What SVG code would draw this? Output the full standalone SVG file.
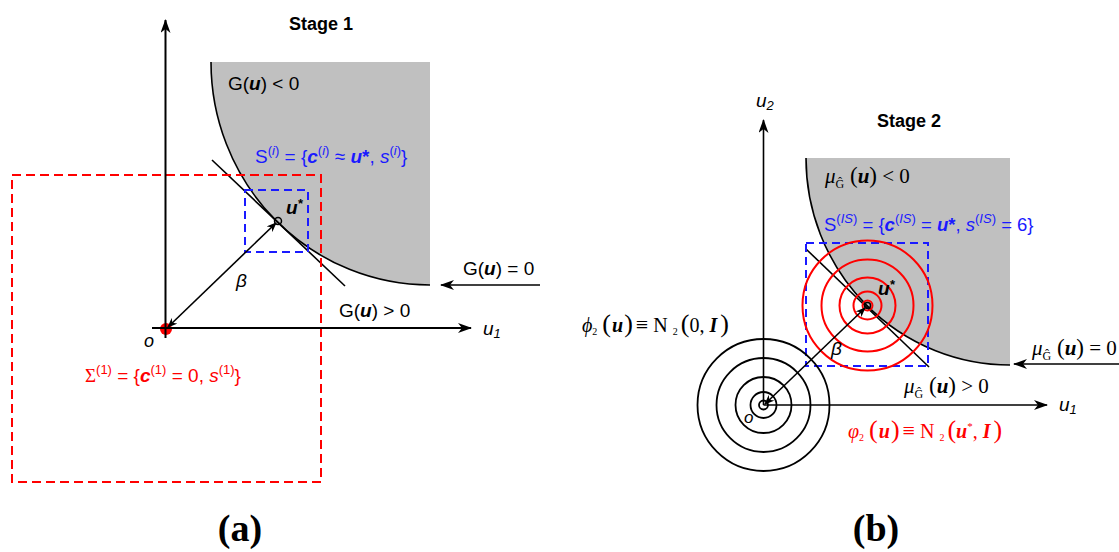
<svg xmlns="http://www.w3.org/2000/svg" width="1119" height="552" viewBox="0 0 1119 552">
<style>
.sans{font-family:"Liberation Sans",Arial,sans-serif}
.serif{font-family:"Liberation Serif","Times New Roman",serif}
.ax{stroke:#000;stroke-width:2;fill:none}
.ln{stroke:#000;stroke-width:1.6;fill:none}
.gray{fill:#c0c0c0;stroke:none}
.rdash{fill:none;stroke:#ff0000;stroke-width:2;stroke-dasharray:9 5}
.bdash{fill:none;stroke:#1a1aff;stroke-width:2;stroke-dasharray:8 5}
.rc{fill:none;stroke:#ff0000;stroke-width:2}
.kc{fill:none;stroke:#000;stroke-width:1.8}
.bi{font-weight:bold;font-style:italic}
.it{font-style:italic}
.blue{fill:#1a1aff}
.red{fill:#ff0000}
</style>
<defs>
<marker id="ah" viewBox="0 0 14 10" refX="13" refY="5" markerWidth="14" markerHeight="10" orient="auto-start-reverse" markerUnits="userSpaceOnUse">
<path d="M0,0 L14,5 L0,10 L4,5 Z" fill="#000"/>
</marker>
<marker id="sh" viewBox="0 0 10 8" refX="9" refY="4" markerWidth="10" markerHeight="8" orient="auto-start-reverse" markerUnits="userSpaceOnUse">
<path d="M0,0 L10,4 L0,8 L3,4 Z" fill="#000"/>
</marker>
</defs>

<!-- Panel (a) -->
<g id="panel-a">
<g id="a-region">
<path class="gray" d="M211,62 A219,223 0 0 0 430,285 L430,62 Z"/>
<path class="ln" d="M211,62 A219,223 0 0 0 430,285"/>
</g>
<g id="a-tangent"><line class="ln" x1="212" y1="160" x2="345" y2="286"/></g>
<g id="a-box-red"><rect class="rdash" x="12" y="175" width="309" height="307"/></g>
<g id="a-box-blue"><rect class="bdash" x="245" y="190" width="63" height="62"/></g>
<g id="a-ustar"><circle cx="278" cy="221" r="3.5" fill="none" stroke="#000" stroke-width="1.5"/></g>
<g id="a-origin"><circle cx="166" cy="329" r="6" fill="#ff0000"/></g>
</g>

<!-- Panel (b) -->
<g id="panel-b">
<g id="b-region">
<path class="gray" d="M806,158 A204,207 0 0 0 1010,365 L1010,158 Z"/>
<path class="ln" d="M806,158 A204,207 0 0 0 1010,365"/>
</g>
<g id="b-tangent"><line class="ln" x1="806" y1="249" x2="929" y2="367"/></g>
<g id="b-box-blue"><rect class="bdash" x="806" y="243" width="122" height="123"/></g>
<g id="b-red-circles">
<circle class="rc" cx="867.5" cy="305.5" r="65"/>
<circle class="rc" cx="867.5" cy="305.5" r="46"/>
<circle class="rc" cx="867.5" cy="305.5" r="28"/>
<circle class="rc" cx="867.5" cy="305.5" r="14"/>
<circle class="rc" cx="867.5" cy="305.5" r="5"/>
<circle cx="867.5" cy="305.5" r="3" fill="none" stroke="#000" stroke-width="1.5"/>
</g>
<g id="b-black-circles">
<circle class="kc" cx="763.5" cy="405" r="66"/>
<circle class="kc" cx="763.5" cy="405" r="47"/>
<circle class="kc" cx="763.5" cy="405" r="28"/>
<circle class="kc" cx="763.5" cy="405" r="13"/>
<circle class="kc" cx="763.5" cy="405" r="4.5"/>
</g>
</g>

<g id="connectors">
<line class="ax" x1="165.5" y1="338" x2="165.5" y2="20" marker-end="url(#ah)"/>
<line class="ax" x1="152" y1="328" x2="471" y2="328" marker-end="url(#ah)"/>
<line class="ln" x1="168" y1="327" x2="276" y2="223" marker-start="url(#sh)" marker-end="url(#sh)"/>
<line class="ln" x1="540" y1="285" x2="441" y2="285" marker-end="url(#ah)"/>
<line class="ln" x1="763.5" y1="405" x2="763.5" y2="120" marker-end="url(#ah)"/>
<line class="ln" x1="763.5" y1="405" x2="1047" y2="405" marker-end="url(#ah)"/>
<line class="ln" x1="765" y1="404" x2="865" y2="308" marker-start="url(#sh)" marker-end="url(#sh)"/>
<line class="ln" x1="1119" y1="364" x2="1014" y2="364" marker-end="url(#ah)"/>
</g>

<g id="labels-a" class="sans" font-size="19">
<text x="289" y="30" font-weight="bold" font-size="18">Stage 1</text>
<text x="228" y="90">G(<tspan class="bi">u</tspan>) &lt; 0</text>
<text x="255" y="163" class="blue">S<tspan font-size="13" dy="-8">(<tspan class="it">i</tspan>)</tspan><tspan dy="8"> = {</tspan><tspan class="bi">c</tspan><tspan font-size="13" dy="-8">(<tspan class="it">i</tspan>)</tspan><tspan dy="8"> ≈ </tspan><tspan class="bi">u</tspan><tspan font-weight="bold">*</tspan>, <tspan class="it">s</tspan><tspan font-size="13" dy="-8">(<tspan class="it">i</tspan>)</tspan><tspan dy="8">}</tspan></text>
<text x="286" y="214" class="bi">u<tspan font-size="13" dy="-6">*</tspan></text>
<text x="236" y="287" class="it">β</text>
<text x="463" y="275">G(<tspan class="bi">u</tspan>) = 0</text>
<text x="339" y="317">G(<tspan class="bi">u</tspan>) &gt; 0</text>
<text x="483" y="335" class="it">u<tspan font-size="13" dy="3">1</tspan></text>
<text x="144" y="347" class="it" font-size="18">o</text>
<text x="85" y="382" class="red"><tspan class="serif">Σ</tspan><tspan font-size="13" dy="-8">(1)</tspan><tspan dy="8"> = {</tspan><tspan class="bi">c</tspan><tspan font-size="13" dy="-8">(1)</tspan><tspan dy="8"> = 0, </tspan><tspan class="it">s</tspan><tspan font-size="13" dy="-8">(1)</tspan><tspan dy="8">}</tspan></text>
</g>

<g id="labels-b" font-size="19">
<text x="756" y="107" class="sans it">u<tspan font-size="13" dy="3">2</tspan></text>
<text x="877" y="127" class="sans" font-weight="bold" font-size="18">Stage 2</text>
<text x="825" y="183" class="serif" font-size="21"><tspan class="it">μ</tspan><tspan font-size="12" dy="5">Ĝ</tspan><tspan dy="-5" font-size="23"> (</tspan><tspan class="bi">u</tspan><tspan font-size="23">)</tspan> &lt; 0</text>
<text x="824" y="231" class="sans blue" font-size="18.5">S<tspan font-size="13" dy="-8">(<tspan class="it">IS</tspan>)</tspan><tspan dy="8"> = {</tspan><tspan class="bi">c</tspan><tspan font-size="13" dy="-8">(<tspan class="it">IS</tspan>)</tspan><tspan dy="8"> = </tspan><tspan class="bi">u</tspan><tspan font-weight="bold">*</tspan>, <tspan class="it">s</tspan><tspan font-size="13" dy="-8">(<tspan class="it">IS</tspan>)</tspan><tspan dy="8"> = 6}</tspan></text>
<text x="878" y="295" class="sans bi">u<tspan font-size="13" dy="-6">*</tspan></text>
<text x="831" y="355" class="sans it">β</text>
<text x="1032" y="355" class="serif" font-size="21"><tspan class="it">μ</tspan><tspan font-size="12" dy="5">Ĝ</tspan><tspan dy="-5" font-size="23"> (</tspan><tspan class="bi">u</tspan><tspan font-size="23">)</tspan> = 0</text>
<text x="904" y="393" class="serif" font-size="21"><tspan class="it">μ</tspan><tspan font-size="12" dy="5">Ĝ</tspan><tspan dy="-5" font-size="23"> (</tspan><tspan class="bi">u</tspan><tspan font-size="23">)</tspan> &gt; 0</text>
<text x="1059" y="411" class="sans it">u<tspan font-size="13" dy="3">1</tspan></text>
<text x="744" y="423" class="sans it" font-size="17">o</text>
<text x="582" y="332" class="serif" font-size="20"><tspan class="it">ϕ</tspan><tspan font-size="10" dy="3">2</tspan><tspan dy="-3" font-size="26" dx="5">(</tspan><tspan class="bi" dx="1">u</tspan><tspan font-size="26" dx="1">)</tspan><tspan font-size="22" dx="3">≡</tspan> N <tspan font-size="10" dy="3">2</tspan><tspan dy="-3" font-size="26" dx="3">(</tspan>0, <tspan class="bi">I</tspan><tspan font-size="26" dx="3">)</tspan></text>
<text x="848" y="438" class="serif red" font-size="20"><tspan class="it">φ</tspan><tspan font-size="10" dy="3">2</tspan><tspan dy="-3" font-size="26" dx="5">(</tspan><tspan class="bi" dx="1">u</tspan><tspan font-size="26" dx="1">)</tspan><tspan font-size="22" dx="3">≡</tspan> N <tspan font-size="10" dy="3">2</tspan><tspan dy="-3" font-size="26" dx="3">(</tspan><tspan class="bi">u</tspan><tspan font-size="11" dy="-8">*</tspan><tspan dy="8">, </tspan><tspan class="bi">I</tspan><tspan font-size="26" dx="3">)</tspan></text>
</g>

<g id="captions" class="serif" font-weight="bold" font-size="38">
<text x="240" y="541" text-anchor="middle">(a)</text>
<text x="876" y="541" text-anchor="middle">(b)</text>
</g>
</svg>
